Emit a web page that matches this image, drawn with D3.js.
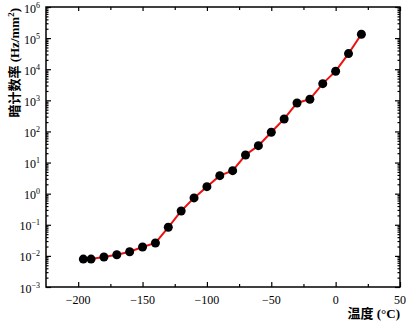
<!DOCTYPE html>
<html>
<head>
<meta charset="utf-8">
<script src="https://cdn.jsdelivr.net/npm/d3@7"></script>
<style>
body { margin: 0; background: #fff; }
text { font-family: "Liberation Serif", "Times New Roman", "Noto Sans CJK SC", serif; fill: #000; }
</style>
</head>
<body>
<div id="chart"></div>
<script>
// temperature (°C) and dark count rate (Hz/mm^2)
var temps = [-196, -190, -180, -170, -160, -150, -140, -130, -120, -110, -100, -90,
             -80, -70, -60, -50, -40, -30, -20, -10, 0, 10, 20];
var rates = [0.0079, 0.0079, 0.0092, 0.0109, 0.0136, 0.0193, 0.026, 0.083, 0.278, 0.73, 1.68, 3.79,
             5.5, 17.5, 34.9, 94, 252, 824, 1085, 3440, 8630, 31800, 133000];
var xTicks = [-200, -150, -100, -50, 0, 50];
var xMinorTicks = [-175, -125, -75, -25, 25];
var yExps = [-3, -2, -1, 0, 1, 2, 3, 4, 5, 6];

var data = temps.map(function (t, i) { return {t: t, r: rates[i]}; });

var W = 406, H = 324;
var margin = {top: 7, right: 6, bottom: 37, left: 46};
var width = W - margin.left - margin.right,
    height = H - margin.top - margin.bottom;

var svg = d3.select("#chart").append("svg")
    .attr("width", W)
    .attr("height", H)
    .append("g")
    .attr("transform", "translate(" + margin.left + "," + margin.top + ")");

var x = d3.scaleLinear().domain([-225, 50]).range([0, width]);
var y = d3.scaleLog().domain([1e-3, 1e6]).range([height, 0]);

var majorY = yExps.map(function (e) { return Math.pow(10, e); });
var minorY = [];
yExps.slice(0, -1).forEach(function (e) {
    for (var m = 2; m <= 9; m++) minorY.push(m * Math.pow(10, e));
});

function tickAxis(axis, cls, transform) {
    var g = svg.append("g").attr("class", cls).attr("transform", transform).call(axis);
    g.select(".domain").remove();
    g.selectAll("line").attr("stroke", "#000").attr("stroke-width", 1.2);
    g.selectAll("text").remove();
    return g;
}

// bottom
tickAxis(d3.axisBottom(x).tickValues(xTicks).tickSize(-5), "xb", "translate(0," + height + ")");
tickAxis(d3.axisBottom(x).tickValues(xMinorTicks).tickSize(-3), "xbm", "translate(0," + height + ")");
// top
tickAxis(d3.axisTop(x).tickValues(xTicks).tickSize(-4), "xt", "translate(0,0)");
tickAxis(d3.axisTop(x).tickValues(xMinorTicks).tickSize(-3), "xtm", "translate(0,0)");
// left
tickAxis(d3.axisLeft(y).tickValues(majorY).tickSize(-5), "yl", "translate(0,0)");
tickAxis(d3.axisLeft(y).tickValues(minorY).tickSize(-2.5), "ylm", "translate(0,0)");
// right
tickAxis(d3.axisRight(y).tickValues(majorY).tickSize(-5), "yr", "translate(" + width + ",0)");
tickAxis(d3.axisRight(y).tickValues(minorY).tickSize(-2.5), "yrm", "translate(" + width + ",0)");

// frame
svg.append("rect")
    .attr("x", 0).attr("y", 0)
    .attr("width", width).attr("height", height)
    .attr("fill", "none")
    .attr("stroke", "#000")
    .attr("stroke-width", 1.5);

// x tick labels
svg.selectAll(".xlabel")
    .data(xTicks)
    .enter().append("text")
    .attr("class", "xlabel")
    .attr("x", function (d) { return x(d); })
    .attr("y", height + 17)
    .attr("text-anchor", "middle")
    .style("font-size", "12px")
    .text(function (d) { return d3.format("d")(d); });

// y tick labels 10^n
var ylab = svg.selectAll(".ylabel")
    .data(yExps)
    .enter().append("text")
    .attr("class", "ylabel")
    .attr("x", -6)
    .attr("y", function (d) { return y(Math.pow(10, d)) + 5.5; })
    .attr("text-anchor", "end")
    .style("font-size", "12px");
ylab.append("tspan").text("10");
ylab.append("tspan")
    .attr("dy", -5)
    .style("font-size", "8px")
    .text(function (d) { return d < 0 ? "\u2212" + (-d) : d; });

// line + points
var line = d3.line()
    .x(function (d) { return x(d.t); })
    .y(function (d) { return y(d.r); });

svg.append("path")
    .datum(data)
    .attr("fill", "none")
    .attr("stroke", "#ee1111")
    .attr("stroke-width", 2)
    .attr("d", line);

svg.selectAll(".dot")
    .data(data)
    .enter().append("circle")
    .attr("class", "dot")
    .attr("cx", function (d) { return x(d.t); })
    .attr("cy", function (d) { return y(d.r); })
    .attr("r", 4.5)
    .attr("fill", "#000");

// axis titles
svg.append("text")
    .attr("x", width)
    .attr("y", height + 31)
    .attr("text-anchor", "end")
    .style("font-size", "13px")
    .style("font-weight", "bold")
    .text("温度 (°C)");

var yt = svg.append("text")
    .attr("transform", "translate(" + (-27) + ",1) rotate(-90)")
    .attr("text-anchor", "end")
    .style("font-size", "13px")
    .style("font-weight", "bold");
yt.append("tspan").text("暗计数率 (Hz/mm");
yt.append("tspan").attr("dy", -5).style("font-size", "9px").text("2");
yt.append("tspan").attr("dy", 5).text(")");
</script>
</body>
</html>
